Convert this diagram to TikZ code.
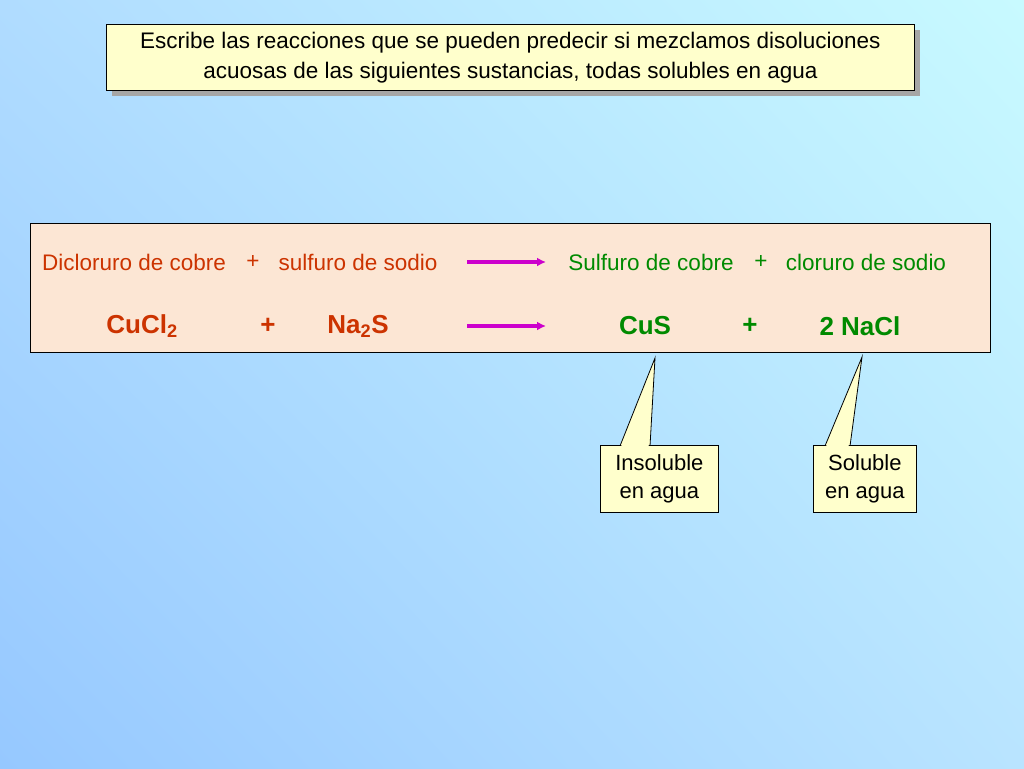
\documentclass[tikz,border=0pt]{standalone}
\usepackage{fontspec}
\setmainfont{Liberation Sans}
\usetikzlibrary{shadings,arrows.meta}
\definecolor{rc}{HTML}{CC3300}
\definecolor{gc}{HTML}{008A00}
\definecolor{mc}{HTML}{CC00CC}
\definecolor{yc}{HTML}{FFFFCC}
\definecolor{pc}{HTML}{FCE6D4}
\definecolor{bgul}{RGB}{176,220,255}
\definecolor{bgur}{RGB}{200,250,255}
\definecolor{bgll}{RGB}{150,200,255}
\definecolor{bglr}{RGB}{185,228,255}
\begin{document}
\begin{tikzpicture}[x=1pt,y=-1pt,
  rtxt/.style={text=rc,font=\fontsize{22.5}{26}\selectfont},
  gtxt/.style={text=gc,font=\fontsize{22.5}{26}\selectfont},
  rbold/.style={text=rc,font=\fontsize{26}{30}\selectfont\bfseries},
  gbold/.style={text=gc,font=\fontsize{26}{30}\selectfont\bfseries},
  arr/.style={draw=mc,line width=3.5pt,-{Latex[length=9pt,width=9pt]}},
  callout/.style={draw=black,fill=yc,line width=0.8pt}]
\useasboundingbox (0,0) rectangle (1024,768);
\shade[upper left=bgul,upper right=bgur,lower left=bgll,lower right=bglr] (0,0) rectangle (1024,768);
% title
\fill[gray!70] (112,30) rectangle (920,96);
\node[draw=black,fill=yc,line width=0.8pt,minimum width=808pt,minimum height=66pt,anchor=north west,inner sep=0pt,align=center,font=\fontsize{22.5}{30}\selectfont] (title) at (106,24)
 {Escribe las reacciones que se pueden predecir si mezclamos disoluciones\\acuosas de las siguientes sustancias, todas solubles en agua};
% reaction box
\node[draw=black,fill=pc,line width=0.8pt,minimum width=960pt,minimum height=129pt,anchor=north west,inner sep=0pt] (rbox) at (30,223) {};
\node[rtxt] (r1) at (134,262) {Dicloruro de cobre};
\node[rtxt] (p1) at (253,262) {+};
\node[rtxt] (r2) at (358,262) {sulfuro de sodio};
\coordinate (a1s) at (467,262); \coordinate (a1e) at (546,262);
\draw[arr] (a1s) -- (a1e);
\node[gtxt] (g1) at (651,262) {Sulfuro de cobre};
\node[gtxt] (p2) at (761,262) {+};
\node[gtxt] (g2) at (866,262) {cloruro de sodio};
\node[rbold] (f1) at (142,326) {CuCl\textsubscript{2}};
\node[rbold] (p3) at (268,326) {+};
\node[rbold] (f2) at (358,326) {Na\textsubscript{2}S};
\coordinate (a2s) at (467,326); \coordinate (a2e) at (546,326);
\draw[arr] (a2s) -- (a2e);
\node[gbold] (f3) at (645,326) {CuS};
\node[gbold] (p4) at (750,326) {+};
\node[gbold] (f4) at (860,326) {2 NaCl};
% callouts
\coordinate (t1) at (655,358); \coordinate (t2) at (862,357);
\draw[callout,line join=miter] (620,446) -- (t1) -- (650,446);
\draw[callout,line join=miter] (825,446) -- (t2) -- (850,446);
\node[callout,minimum width=118pt,minimum height=67pt,anchor=north west,inner sep=0pt,align=center,font=\fontsize{22}{28}\selectfont] (c1) at (600,445) {Insoluble\\ en agua};
\node[callout,minimum width=103pt,minimum height=67pt,anchor=north west,inner sep=0pt,align=center,font=\fontsize{22}{28}\selectfont] (c2) at (813,445) {Soluble\\en agua};
\fill[yc] (621.5,444) -- (648.5,444) -- (649,448) -- (621,448) -- cycle;
\fill[yc] (826.5,444) -- (848.5,444) -- (849,448) -- (826,448) -- cycle;
\end{tikzpicture}
\end{document}
